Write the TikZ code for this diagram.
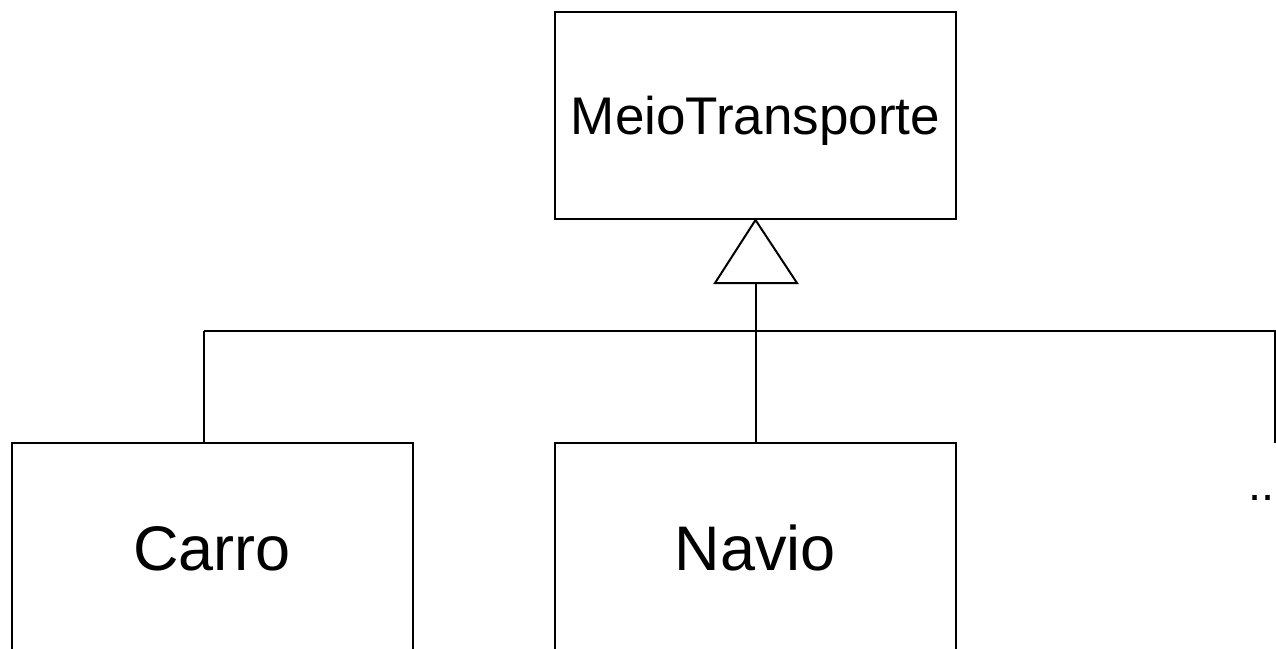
\documentclass[tikz,border=0pt]{standalone}
\usepackage{fontspec}
\setmainfont{Liberation Sans}
\begin{document}
\begin{tikzpicture}[x=1pt,y=-1pt,
  line width=2pt,
  classbox/.style={draw=black, line width=2pt, inner sep=0pt, minimum width=401pt},
  bigtext/.style={font=\fontsize{63}{70}\selectfont},
  toptext/.style={font=\fontsize{53}{60}\selectfont}]
\useasboundingbox (0,0) rectangle (1276,648);
\clip (0,0) rectangle (1276,648);
% superclass
\node[classbox, toptext, minimum height=207pt, text depth=0pt] (meio) at (755.5,115.5) {MeioTransporte};
% subclasses
\node[classbox, bigtext, minimum height=210pt, text depth=0pt] (carro) at (212,548) {Carro};
\node[classbox, bigtext, minimum height=210pt, text depth=0pt] (navio) at (755.5,548) {Navio};
\node[anchor=base east, inner sep=0pt, font=\fontsize{47}{50}\selectfont] (etc) at (1275.8,500) {..};
% generalization triangle
\coordinate (apex) at (meio.south);
\coordinate (tl) at (715,283);
\coordinate (tr) at (797,283);
\coordinate (tb) at (755.5,283);
\draw[line join=miter] (apex) -- (tl) -- (tr) -- cycle;
% tree
\coordinate (hl) at (204,331);
\coordinate (hr) at (1280,331);
\coordinate (cj) at (204,331);
\coordinate (ej) at (1275,331);
\coordinate (eend) at (1275,443);
\draw (tb) -- (navio.north);
\draw (hl) -- (hr);
\draw (cj) -- (carro.north -| cj);
\draw (ej) -- (eend);
\end{tikzpicture}
\end{document}
